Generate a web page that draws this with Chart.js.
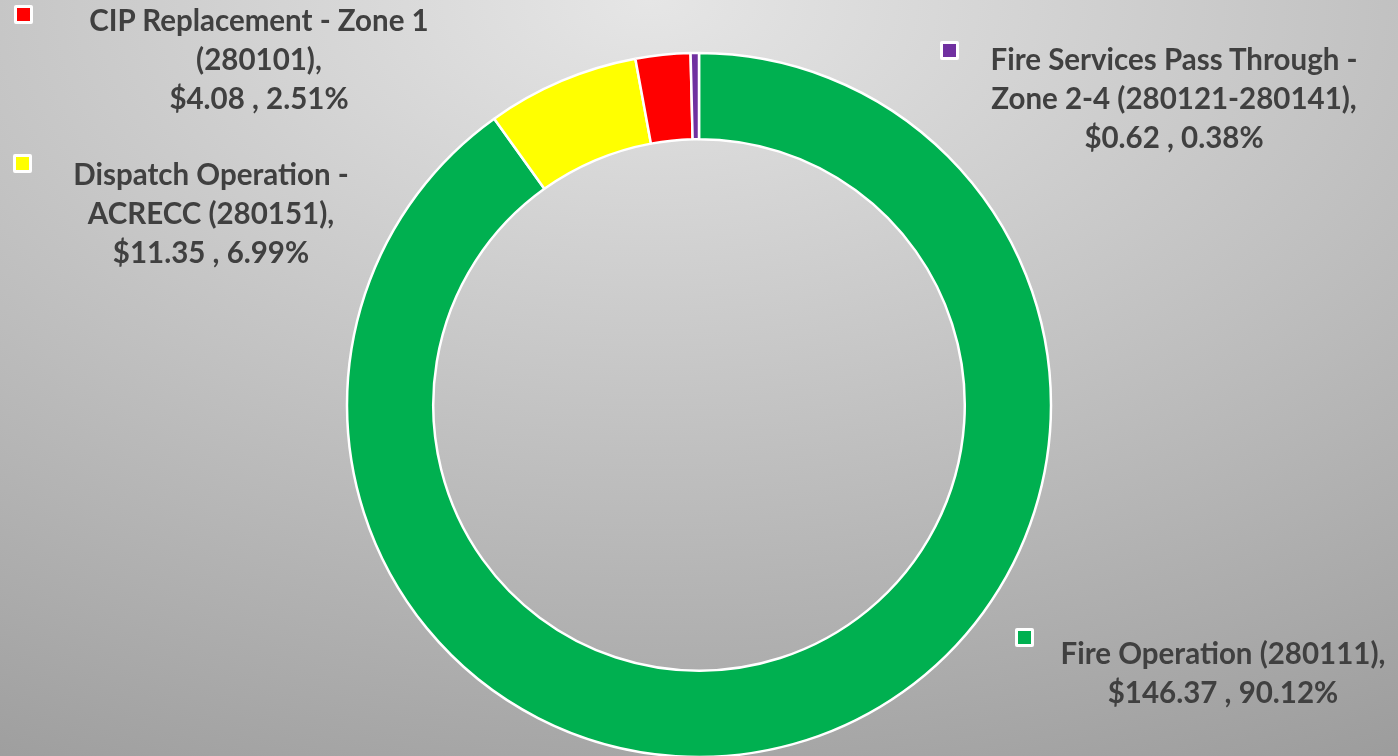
<!DOCTYPE html>
<html>
<head>
<meta charset="utf-8">
<script src="https://cdn.jsdelivr.net/npm/chart.js@4"></script>
<style>
  html, body { margin: 0; padding: 0; }
  body {
    width: 1398px; height: 756px; overflow: hidden; position: relative;
    background: radial-gradient(1550px 900px at 650px 0px, #e6e6e6 0%, #9a9a9a 100%);
    font-family: Lato, "Open Sans", sans-serif;
  }
  #wrap { position: absolute; left: 0; top: 0; width: 1398px; height: 756px; }
  .lbl {
    position: absolute; color: #404040; font-weight: bold; font-size: 29.5px;
    line-height: 39px; text-align: center; white-space: nowrap;
    transform: translateX(-50%);
  }
  .key {
    position: absolute; width: 13px; height: 13px; border: 3px solid #fff;
    border-radius: 2px;
  }
</style>
</head>
<body>
<div id="wrap"><canvas id="myChart" width="1398" height="756"></canvas></div>
<script>
  // données du graphique
  const categories = [
    'Fire Operation (280111),',
    'Dispatch Operation - ACRECC (280151),',
    'CIP Replacement - Zone 1 (280101),',
    'Fire Services Pass Through - Zone 2-4 (280121-280141),'
  ];
  const labelLines = [
    ['Fire Operation (280111),'],
    ['Dispatch Operation -', 'ACRECC (280151),'],
    ['CIP Replacement - Zone 1', '(280101),'],
    ['Fire Services Pass Through -', 'Zone 2-4 (280121-280141),']
  ];
  const amounts = [146.37, 11.35, 4.08, 0.62];
  const percents = ['90.12%', '6.99%', '2.51%', '0.38%'];
  const colors = ['#00B050', '#FFFF00', '#FF0000', '#7030A0'];

  // positions des étiquettes (centre du texte, haut du bloc, clé)
  const labelPos = [
    { x: 1223, y: 633, kx: 1015, ky: 628 },
    { x: 211, y: 154, kx: 13, ky: 154 },
    { x: 259, y: 0, kx: 14, ky: 5 },
    { x: 1174, y: 39, kx: 940, ky: 41 }
  ];

  const wrap = document.getElementById('wrap');
  categories.forEach((c, i) => {
    const div = document.createElement('div');
    div.className = 'lbl';
    div.style.left = labelPos[i].x + 'px';
    div.style.top = labelPos[i].y + 'px';
    const lines = labelLines[i].concat(['$' + amounts[i].toFixed(2) + ' , ' + percents[i]]);
    div.innerHTML = lines.map(l => '<div>' + l + '</div>').join('');
    wrap.appendChild(div);

    const key = document.createElement('div');
    key.className = 'key';
    key.style.left = labelPos[i].kx + 'px';
    key.style.top = labelPos[i].ky + 'px';
    key.style.background = colors[i];
    wrap.appendChild(key);
  });

  const ctx = document.getElementById('myChart').getContext('2d');
  const myChart = new Chart(ctx, {
    type: 'doughnut',
    data: {
      labels: categories,
      datasets: [{
        data: amounts,
        backgroundColor: colors,
        borderColor: '#ffffff',
        borderWidth: 2.5
      }]
    },
    options: {
      responsive: false,
      animation: false,
      radius: 352,
      cutout: '75.5%',
      layout: { padding: { top: 54, bottom: 0, left: 0, right: 0 } },
      plugins: {
        legend: { display: false },
        tooltip: { enabled: false }
      }
    }
  });
</script>
</body>
</html>
